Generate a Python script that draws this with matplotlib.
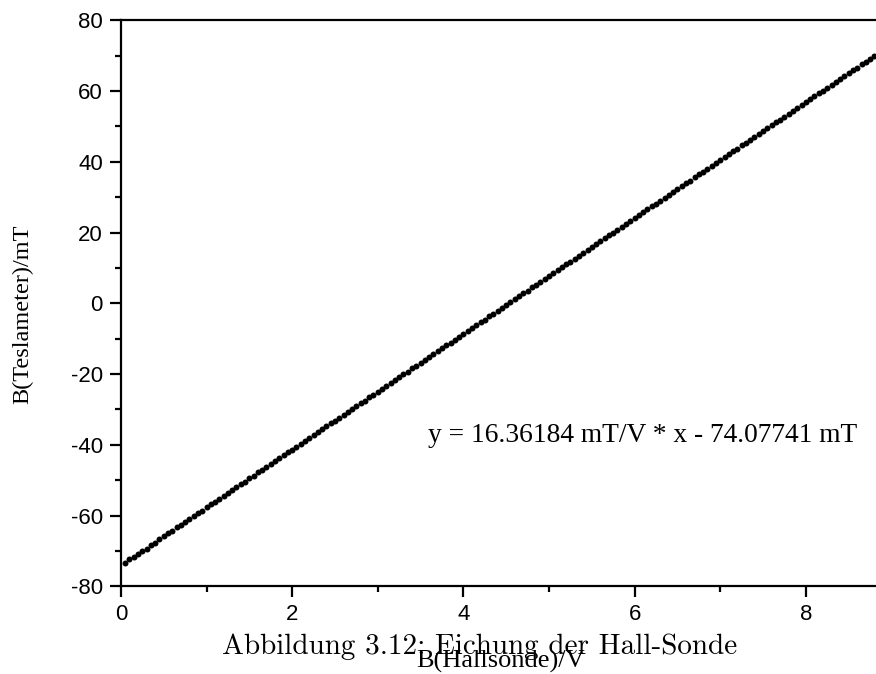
import matplotlib
matplotlib.use("Agg")
import matplotlib.pyplot as plt
from matplotlib.ticker import MultipleLocator

# measured points (Hall probe voltage vs. teslameter reading)
hall_v = [0.05, 0.10, 0.15, 0.20, 0.25, 0.30, 0.35, 0.40, 0.45, 0.50,
          0.55, 0.60, 0.65, 0.70, 0.75, 0.80, 0.85, 0.90, 0.95, 1.00,
          1.05, 1.10, 1.15, 1.20, 1.25, 1.30, 1.35, 1.40, 1.45, 1.50,
          1.55, 1.60, 1.65, 1.70, 1.75, 1.80, 1.85, 1.90, 1.95, 2.00,
          2.05, 2.10, 2.15, 2.20, 2.25, 2.30, 2.35, 2.40, 2.45, 2.50,
          2.55, 2.60, 2.65, 2.70, 2.75, 2.80, 2.85, 2.90, 2.95, 3.00,
          3.05, 3.10, 3.15, 3.20, 3.25, 3.30, 3.35, 3.40, 3.45, 3.50,
          3.55, 3.60, 3.65, 3.70, 3.75, 3.80, 3.85, 3.90, 3.95, 4.00,
          4.05, 4.10, 4.15, 4.20, 4.25, 4.30, 4.35, 4.40, 4.45, 4.50,
          4.55, 4.60, 4.65, 4.70, 4.75, 4.80, 4.85, 4.90, 4.95, 5.00,
          5.05, 5.10, 5.15, 5.20, 5.25, 5.30, 5.35, 5.40, 5.45, 5.50,
          5.55, 5.60, 5.65, 5.70, 5.75, 5.80, 5.85, 5.90, 5.95, 6.00,
          6.05, 6.10, 6.15, 6.20, 6.25, 6.30, 6.35, 6.40, 6.45, 6.50,
          6.55, 6.60, 6.65, 6.70, 6.75, 6.80, 6.85, 6.90, 6.95, 7.00,
          7.05, 7.10, 7.15, 7.20, 7.25, 7.30, 7.35, 7.40, 7.45, 7.50,
          7.55, 7.60, 7.65, 7.70, 7.75, 7.80, 7.85, 7.90, 7.95, 8.00,
          8.05, 8.10, 8.15, 8.20, 8.25, 8.30, 8.35, 8.40, 8.45, 8.50,
          8.55, 8.60, 8.65, 8.70, 8.75, 8.80]

b_tesla = [-73.3, -72.3, -71.7, -70.8, -69.9, -69.3, -68.3, -67.6, -66.6, -65.9,
           -65.0, -64.3, -63.3, -62.7, -61.8, -60.9, -60.2, -59.3, -58.6, -57.7,
           -56.8, -56.1, -55.2, -54.5, -53.6, -52.7, -52.0, -51.1, -50.4, -49.5,
           -48.7, -47.8, -47.1, -46.2, -45.5, -44.6, -43.7, -43.0, -42.1, -41.4,
           -40.5, -39.7, -38.8, -38.1, -37.2, -36.5, -35.6, -34.8, -33.9, -33.2,
           -32.3, -31.6, -30.7, -29.9, -29.1, -28.2, -27.5, -26.6, -25.8, -25.0,
           -24.2, -23.3, -22.6, -21.7, -20.9, -20.1, -19.3, -18.4, -17.6, -16.8,
           -16.0, -15.2, -14.3, -13.6, -12.7, -11.9, -11.1, -10.3, -9.4, -8.6,
           -7.8, -7.0, -6.2, -5.3, -4.6, -3.7, -2.9, -2.1, -1.3, -0.4,
           0.4, 1.2, 2.0, 2.8, 3.6, 4.5, 5.3, 6.1, 6.9, 7.7,
           8.5, 9.4, 10.2, 11.0, 11.8, 12.6, 13.5, 14.3, 15.1, 15.9,
           16.7, 17.6, 18.4, 19.2, 20.0, 20.8, 21.6, 22.5, 23.3, 24.1,
           24.9, 25.7, 26.6, 27.4, 28.2, 29.0, 29.8, 30.6, 31.5, 32.3,
           33.1, 33.9, 34.7, 35.6, 36.4, 37.2, 38.0, 38.8, 39.6, 40.5,
           41.3, 42.1, 42.9, 43.7, 44.6, 45.4, 46.2, 47.0, 47.8, 48.6,
           49.5, 50.3, 51.1, 51.9, 52.7, 53.6, 54.4, 55.2, 56.0, 56.8,
           57.6, 58.5, 59.3, 60.1, 60.9, 61.7, 62.6, 63.4, 64.2, 65.0,
           65.8, 66.6, 67.5, 68.3, 69.1, 69.9]

fit_text = "y = 16.36184 mT/V * x - 74.07741 mT"
caption = "Abbildung 3.12: Eichung der Hall-Sonde"

plt.rcParams["axes.unicode_minus"] = False

fig = plt.figure(figsize=(8.76, 6.74), dpi=100)
ax = fig.add_axes([0.138, 0.130, 0.866, 0.840])

ax.plot(hall_v, b_tesla, "o", color="black", markersize=4.3, markeredgewidth=0)

ax.set_xlim(0, 8.86)
ax.set_ylim(-80, 80)
ax.xaxis.set_major_locator(MultipleLocator(2))
ax.xaxis.set_minor_locator(MultipleLocator(1))
ax.yaxis.set_major_locator(MultipleLocator(20))
ax.yaxis.set_minor_locator(MultipleLocator(10))

for s in ax.spines.values():
    s.set_linewidth(1.6)
ax.tick_params(which="major", direction="out", length=8, width=1.6, pad=5,
               labelsize=16)
ax.tick_params(which="minor", direction="out", length=4.5, width=1.6)
for lab in ax.get_xticklabels() + ax.get_yticklabels():
    lab.set_fontfamily("Liberation Sans")

# fit equation and labels (placed in figure coords)
fig.text(0.4886, 0.3442, fit_text, family="Liberation Serif", fontsize=19.8,
         ha="left", va="baseline")
fig.text(0.026, 0.534, "B(Teslameter)/mT", family="Liberation Serif",
         fontsize=17.5, rotation=90, ha="center", va="center")
fig.text(0.548, 0.030, caption, family="cmr10", fontsize=21,
         ha="center", va="baseline")
fig.text(0.571, 0.009, "B(Hallsonde)/V", family="Liberation Serif",
         fontsize=19, ha="center", va="baseline")

fig.savefig("out.png", dpi=100)
